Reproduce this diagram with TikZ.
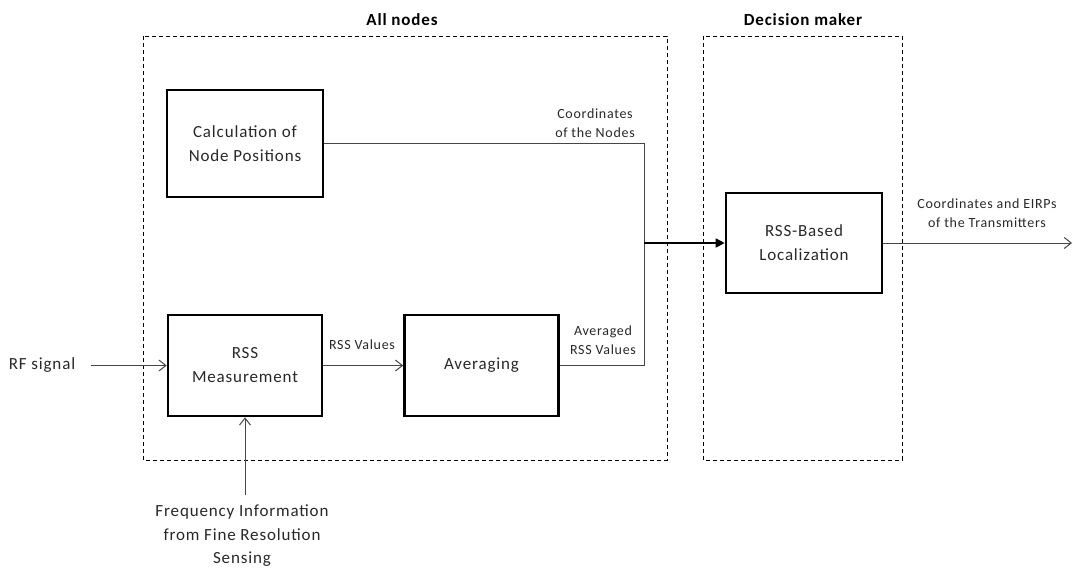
\documentclass[tikz,border=0pt]{standalone}
\usepackage{fontspec}
\setmainfont{Carlito}[LetterSpace=5]
\usetikzlibrary{arrows.meta}
\definecolor{ink}{RGB}{40,40,40}
\definecolor{wire}{RGB}{70,70,70}
\tikzset{
  block/.style={draw=black, line width=2.6pt, minimum width=154pt, minimum height=101pt,
    align=center, text=ink, font=\fontsize{17}{24}\selectfont, inner sep=0pt},
  group/.style={draw=black, line width=0.9pt, dash pattern=on 4pt off 3pt},
  grouptitle/.style={font=\fontsize{17}{20}\selectfont\bfseries, text=black},
  wirelabel/.style={font=\fontsize{14}{19}\selectfont, text=ink, align=center, inner sep=0pt},
  plain/.style={font=\fontsize{17}{23.5}\selectfont, text=ink, align=center, inner sep=0pt},
  flow/.style={draw=wire, line width=1pt},
  openhead/.style={flow, -{Straight Barb[length=7pt, width=11pt, line width=1pt]}},
  mainhead/.style={draw=black, line width=1.6pt, -{Triangle[length=9pt, width=9pt]}}
}
\begin{document}
\begin{tikzpicture}[x=1pt, y=-1pt]
\useasboundingbox (0,0) rectangle (1073,570);

% grouping frames
\draw[group] (143,36) rectangle (667,460);
\draw[group] (703,36) rectangle (902,460);
\node[grouptitle] (tall) at (402,20) {All nodes};
\node[grouptitle] (tdec) at (803,20) {Decision maker};

% processing blocks
\node[block, minimum width=156pt, minimum height=107pt] (calc) at (245,143.5) {Calculation of\\Node Positions};
\node[block] (meas) at (245,365.5) {RSS\\Measurement};
\node[block] (avg) at (481.5,365.5) {Averaging};
\node[block, minimum width=156pt, minimum height=100pt] (loc) at (804,243) {RSS-Based\\Localization};

% inputs and outputs
\node[plain] (rf) at (42,365) {RF signal};
\node[plain] (freq) at (242,536) {Frequency Information\\from Fine Resolution\\Sensing};
\coordinate (rfstart) at (91,365.5);
\coordinate (freqtop) at (245,495);
\coordinate (join) at (644,243);
\coordinate (out) at (1072,243);

% connectors
\draw[openhead] (rfstart) -- (meas.west);
\draw[openhead] (freqtop) -- (meas.south);
\draw[openhead] (meas.east) -- (avg.west);
\draw[flow] (avg.east) -| (join);
\draw[flow] (calc.east) -| (join);
\draw[mainhead] (join) -- (loc.west);
\draw[openhead] (loc.east) -- (out);

% connector labels
\node[wirelabel] (lrss) at (362,345) {RSS Values};
\node[wirelabel] (lavg) at (603,340) {Averaged\\RSS Values};
\node[wirelabel] (lcoord) at (595,123.5) {Coordinates\\of the Nodes};
\node[wirelabel] (lout) at (987,213.5) {Coordinates and EIRPs\\of the Transmitters};
\end{tikzpicture}
\end{document}
